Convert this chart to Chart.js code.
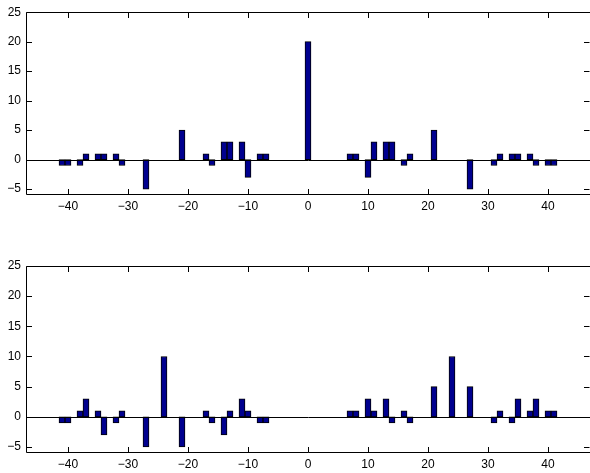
<!DOCTYPE html>
<html>
<head>
<meta charset="utf-8">
<script src="https://cdn.jsdelivr.net/npm/chart.js@4/dist/chart.umd.min.js"></script>
<style>
  html, body { margin: 0; padding: 0; background: #fff; overflow: hidden; }
  body { width: 590px; height: 473px; position: relative; }
  canvas { position: absolute; left: 0; }
</style>
</head>
<body>
<canvas id="c1" width="590" height="236" style="top:0px"></canvas>
<canvas id="c2" width="590" height="237" style="top:236px"></canvas>
<script>
// ---- data ----
const topLags = [-41,-40,-38,-37,-35,-34,-32,-31,-27,-21,-17,-16,-14,-13,-11,-10,-8,-7,0,7,8,10,11,13,14,16,17,21,27,31,32,34,35,37,38,40,41];
const topValues = [-1,-1,-1,1,1,1,1,-1,-5,5,1,-1,3,3,3,-3,1,1,20,1,1,-3,3,3,3,-1,1,5,-5,-1,1,1,1,1,-1,-1,-1];

const bottomLags = [-41,-40,-38,-37,-35,-34,-32,-31,-27,-24,-21,-17,-16,-14,-13,-11,-10,-8,-7,7,8,10,11,13,14,16,17,21,24,27,31,32,34,35,37,38,40,41];
const bottomValues = [-1,-1,1,3,1,-3,-1,1,-5,10,-5,1,-1,-3,1,3,1,-1,-1,1,1,3,1,3,-1,1,-1,5,10,5,-1,1,-1,3,1,3,1,1];

const xTickValues = [-40,-30,-20,-10,0,10,20,30,40];
const xTickLabels = ['\u221240','\u221230','\u221220','\u221210','0','10','20','30','40'];
const yTickValues = [-5,0,5,10,15,20,25];
const yTickLabels = ['\u22125','0','5','10','15','20','25'];

const X_MIN = -47, X_MAX = 47, Y_MIN = -6, Y_MAX = 25;

// ---- drawing helpers ----
const matlabAxes = {
  id: 'matlabAxes',
  afterDatasetsDraw(chart) {
    const ctx = chart.ctx;
    const a = chart.chartArea;
    const xs = chart.scales.x, ys = chart.scales.y;
    const tl = 5.5;
    const L = Math.round(a.left) + 0.5, R = Math.round(a.right) + 0.5;
    const T = Math.round(a.top) + 0.5, B = Math.round(a.bottom) - 0.5;
    ctx.save();
    ctx.strokeStyle = '#000';
    ctx.lineWidth = 1;
    // zero baseline
    const y0 = Math.round(ys.getPixelForValue(0)) + 0.5;
    ctx.beginPath();
    ctx.moveTo(L, y0); ctx.lineTo(R, y0);
    ctx.stroke();
    // box
    ctx.beginPath();
    ctx.rect(L, T, R - L, B - T);
    ctx.stroke();
    // inward ticks
    ctx.beginPath();
    xTickValues.forEach(v => {
      const px = Math.round(xs.getPixelForValue(v)) + 0.5;
      ctx.moveTo(px, B); ctx.lineTo(px, B - tl);
      ctx.moveTo(px, T); ctx.lineTo(px, T + tl);
    });
    yTickValues.forEach(v => {
      const py = Math.round(ys.getPixelForValue(v)) + 0.5;
      ctx.moveTo(L, py); ctx.lineTo(L + tl, py);
      ctx.moveTo(R - 1, py); ctx.lineTo(R - 1 - tl, py);
    });
    ctx.stroke();
    ctx.restore();
  }
};

function makeChart(id, lags, values, padTop, xAxisHeight) {
  const pts = lags.map((x, i) => ({ x: x, y: values[i] }));
  return new Chart(document.getElementById(id), {
    type: 'bar',
    data: {
      datasets: [{
        data: pts,
        backgroundColor: '#00008F',
        borderColor: '#000',
        borderWidth: 1,
        borderSkipped: false,
        barPercentage: 1.0,
        categoryPercentage: 1.0
      }]
    },
    options: {
      responsive: false,
      animation: false,
      devicePixelRatio: 1,
      layout: { padding: { top: padTop, right: 0, left: 0, bottom: 0 } },
      plugins: { legend: { display: false }, tooltip: { enabled: false } },
      scales: {
        x: {
          type: 'linear',
          offset: false,
          min: X_MIN, max: X_MAX,
          grid: { display: false, drawTicks: false, offset: false },
          border: { display: false },
          afterBuildTicks: s => { s.ticks = xTickValues.map(v => ({ value: v })); },
          afterFit: s => { s.height = xAxisHeight; },
          ticks: {
            padding: 4,
            maxRotation: 0,
            autoSkip: false,
            color: '#000',
            font: { family: '"Liberation Sans", Arial, sans-serif', size: 12 },
            callback: v => xTickLabels[xTickValues.indexOf(v)]
          }
        },
        y: {
          min: Y_MIN, max: Y_MAX,
          grid: { display: false, drawTicks: false },
          border: { display: false },
          afterBuildTicks: s => { s.ticks = yTickValues.map(v => ({ value: v })); },
          afterFit: s => { s.width = 26; },
          ticks: {
            padding: 5,
            autoSkip: false,
            color: '#000',
            font: { family: '"Liberation Sans", Arial, sans-serif', size: 12 },
            callback: v => yTickLabels[yTickValues.indexOf(v)]
          }
        }
      }
    },
    plugins: [matlabAxes]
  });
}

makeChart('c1', topLags, topValues, 7, 41);
makeChart('c2', bottomLags, bottomValues, 30, 20);
</script>
</body>
</html>
